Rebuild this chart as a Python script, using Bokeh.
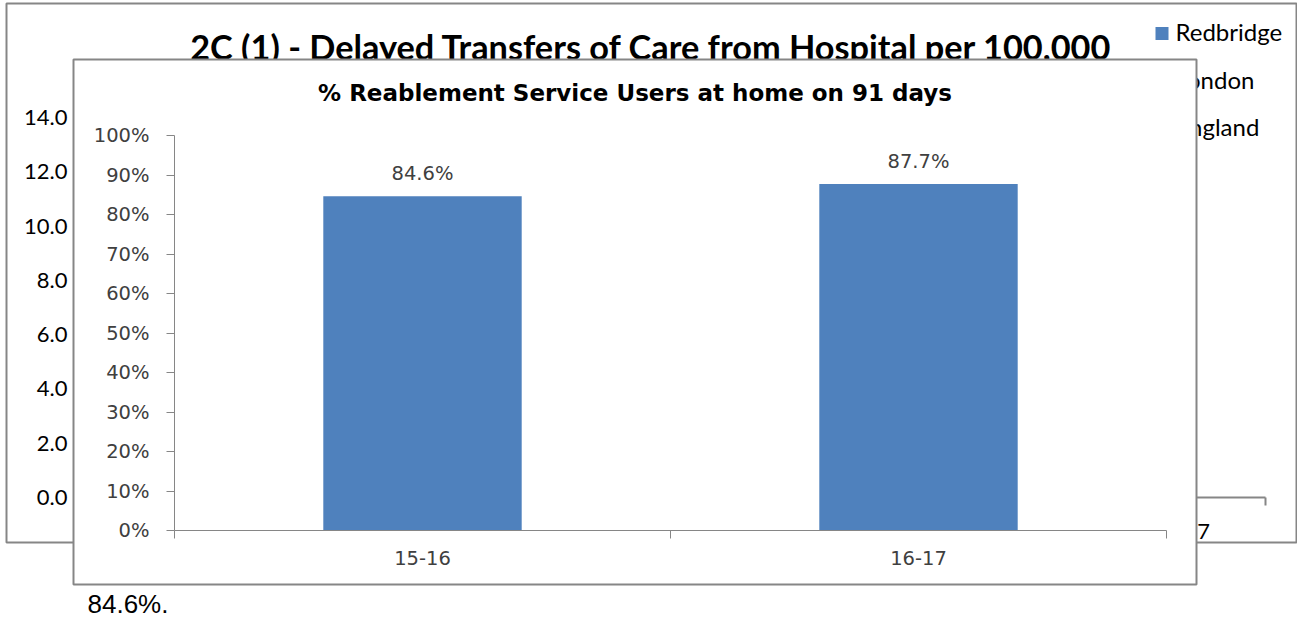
from bokeh.plotting import figure
from bokeh.models import (Range1d, FixedTicker, NumeralTickFormatter, Label,
                          ColumnDataSource, LinearAxis)
from bokeh.embed import file_html
from bokeh.resources import INLINE
from bokeh.core.properties import value

# ---------------- data ----------------
fg_title = "% Reablement Service Users at home on 91 days"
fg_categories = ["15-16", "16-17"]
fg_values = [0.846, 0.877]
fg_y_ticks = [0.0, 0.1, 0.2, 0.3, 0.4, 0.5, 0.6, 0.7, 0.8, 0.9, 1.0]

bg_title = "2C (1) - Delayed Transfers of Care from Hospital per 100,000"
bg_categories = ["10-11", "11-12", "12-13", "13-14", "14-15", "15-16", "16-17"]
bg_series = ["Redbridge", "London", "England"]
bg_y_ticks = [0, 2, 4, 6, 8, 10, 12, 14]

note_text = "84.6%."

# ---------------- layout / styles ----------------
W, H = 1297, 618
FG_BOX = (72, 1197, 58, 585)        # outer box of the front chart (page px)
BG_BOX = (5, 1297, 2, 543)          # outer box of the chart behind
FG_PLOT = (174, 1166, 135, 530)     # plot area (left, right, top, bottom)
BG_PLOT = (75, 1265, 117, 497)
LEGEND_POS = (1161.5, 33, 47.5)     # marker centre x, first row y, row pitch
LEGEND_TEXT_X = 1175

BAR = "#4F81BD"
SERIES_COLORS = ["#4F81BD", "#C0504D", "#9BBB59"]
AXIS_GRAY = "#868686"
TEXT_GRAY = "#404040"
BORDER_C = "#868686"
FG_FONT = "DejaVu Sans"
BG_FONT = "Lato"


def span_range(d0, d1, p0, p1, total):
    """Range that puts data d0 at pixel p0 and d1 at pixel p1 on a canvas of size total."""
    k = (p1 - p0) / (d1 - d0)
    return Range1d(start=d0 - p0 / k, end=d0 + (total - p0) / k)


p = figure(width=W, height=H, x_range=Range1d(0, W), y_range=Range1d(H, 0),
           x_axis_location=None, y_axis_location=None, min_border=0,
           output_backend="svg", toolbar_location=None, tools="")
p.grid.visible = False
p.outline_line_color = None
p.background_fill_color = "white"
p.border_fill_color = "white"

n_bg = len(bg_categories)
n_fg = len(fg_categories)
p.extra_x_ranges = {
    "bgx": span_range(0, n_bg, BG_PLOT[0], BG_PLOT[1], W),
    "fgx": span_range(0, n_fg, FG_PLOT[0], FG_PLOT[1], W),
}
p.extra_y_ranges = {
    "bgy": span_range(0, max(bg_y_ticks), H - BG_PLOT[3], H - BG_PLOT[2], H),
    "fgy": span_range(0, max(fg_y_ticks), H - FG_PLOT[3], H - FG_PLOT[2], H),
}

# ---------------- chart behind ----------------
p.quad(left=BG_BOX[0] + 1, right=BG_BOX[1] - 1, top=BG_BOX[2] + 1, bottom=BG_BOX[3] - 1,
       fill_color=None, line_color=BORDER_C, line_width=2, level="image")

bg_centers = [i + 0.5 for i in range(n_bg)]
bg_xaxis = LinearAxis(x_range_name="bgx", y_range_name="bgy", fixed_location=0,
                      bounds=(0, n_bg), level="image",
                      ticker=FixedTicker(ticks=bg_centers, minor_ticks=list(range(n_bg + 1))),
                      major_label_overrides={c: cat for c, cat in zip(bg_centers, bg_categories)},
                      axis_line_color=AXIS_GRAY, axis_line_width=2,
                      major_tick_line_color=None, major_tick_out=0, major_tick_in=0,
                      minor_tick_line_color=AXIS_GRAY, minor_tick_line_width=2,
                      minor_tick_out=8, minor_tick_in=0,
                      major_label_standoff=18, major_label_text_font=BG_FONT,
                      major_label_text_font_size="22px", major_label_text_color="black")
p.add_layout(bg_xaxis, "below")

bg_yaxis = LinearAxis(x_range_name="bgx", y_range_name="bgy", fixed_location=0,
                      bounds=(0, max(bg_y_ticks)), level="image",
                      ticker=FixedTicker(ticks=bg_y_ticks),
                      formatter=NumeralTickFormatter(format="0.0"),
                      axis_line_color=None, major_tick_line_color=None,
                      minor_tick_line_color=None, major_tick_out=0, major_tick_in=0,
                      major_label_standoff=8, major_label_text_font=BG_FONT,
                      major_label_text_font_size="22px", major_label_text_color="black")
p.add_layout(bg_yaxis, "left")

# legend of the chart behind (markers + names)
leg_y = [LEGEND_POS[1] + i * LEGEND_POS[2] for i in range(len(bg_series))]
leg_src = ColumnDataSource(dict(x=[LEGEND_POS[0]] * len(bg_series),
                                tx=[LEGEND_TEXT_X] * len(bg_series),
                                y=leg_y, name=bg_series, color=SERIES_COLORS))
p.scatter(x="x", y="y", source=leg_src, marker="square", size=13, fill_color="color",
          line_color=None, level="image")
p.text(x="tx", y="y", text="name", source=leg_src, text_align="left", text_baseline="middle",
       y_offset=-2, text_font=value(BG_FONT), text_font_size=value("24px"),
       text_color="black", level="image")

p.add_layout(Label(x=651, y=45.5, text=bg_title, level="image",
                   text_align="center", text_baseline="middle", text_font=BG_FONT,
                   text_font_style="bold", text_font_size="34.3px", text_color="black"))

# ---------------- front chart ----------------
p.quad(left=FG_BOX[0] + 1, right=FG_BOX[1] - 1, top=FG_BOX[2] + 1, bottom=FG_BOX[3] - 1,
       fill_color="white", line_color=BORDER_C, line_width=2, level="underlay")

fg_centers = [i + 0.5 for i in range(n_fg)]
src = ColumnDataSource(dict(x=fg_centers, top=fg_values,
                            label=[f"{v * 100:.1f}%" for v in fg_values]))
p.vbar(x="x", top="top", width=0.4, source=src, x_range_name="fgx", y_range_name="fgy",
       fill_color=BAR, line_color=None)
p.text(x="x", y="top", text="label", source=src, x_range_name="fgx", y_range_name="fgy",
       text_align="center", text_baseline="bottom", y_offset=-11,
       text_font=value(FG_FONT), text_font_size=value("19.5px"), text_color=TEXT_GRAY)

fg_xaxis = LinearAxis(x_range_name="fgx", y_range_name="fgy", fixed_location=0,
                      bounds=(0, n_fg),
                      ticker=FixedTicker(ticks=fg_centers, minor_ticks=list(range(n_fg + 1))),
                      major_label_overrides={c: cat for c, cat in zip(fg_centers, fg_categories)},
                      axis_line_color=AXIS_GRAY, major_tick_line_color=None,
                      major_tick_out=0, major_tick_in=0,
                      minor_tick_line_color=AXIS_GRAY, minor_tick_out=8, minor_tick_in=0,
                      major_label_standoff=12, major_label_text_font=FG_FONT,
                      major_label_text_font_size="19.5px", major_label_text_color=TEXT_GRAY)
p.add_layout(fg_xaxis, "below")

fg_yaxis = LinearAxis(x_range_name="fgx", y_range_name="fgy", fixed_location=0,
                      bounds=(0, max(fg_y_ticks)),
                      ticker=FixedTicker(ticks=fg_y_ticks),
                      formatter=NumeralTickFormatter(format="0%"),
                      axis_line_color=AXIS_GRAY, major_tick_line_color=AXIS_GRAY,
                      minor_tick_line_color=None, major_tick_out=8, major_tick_in=0,
                      major_label_standoff=17, major_label_text_font=FG_FONT,
                      major_label_text_font_size="19.5px", major_label_text_color=TEXT_GRAY)
p.add_layout(fg_yaxis, "left")

p.add_layout(Label(x=634.5, y=92, text=fg_title, text_align="center",
                   text_baseline="middle", text_font=FG_FONT, text_font_style="bold",
                   text_font_size="23px", text_color="black"))

# ---------------- text under the charts ----------------
p.add_layout(Label(x=87, y=603, text=note_text, text_align="left",
                   text_baseline="middle", text_font="Liberation Sans",
                   text_font_size="26px", text_color="black"))

open("out.html", "w").write(file_html(p, INLINE))
